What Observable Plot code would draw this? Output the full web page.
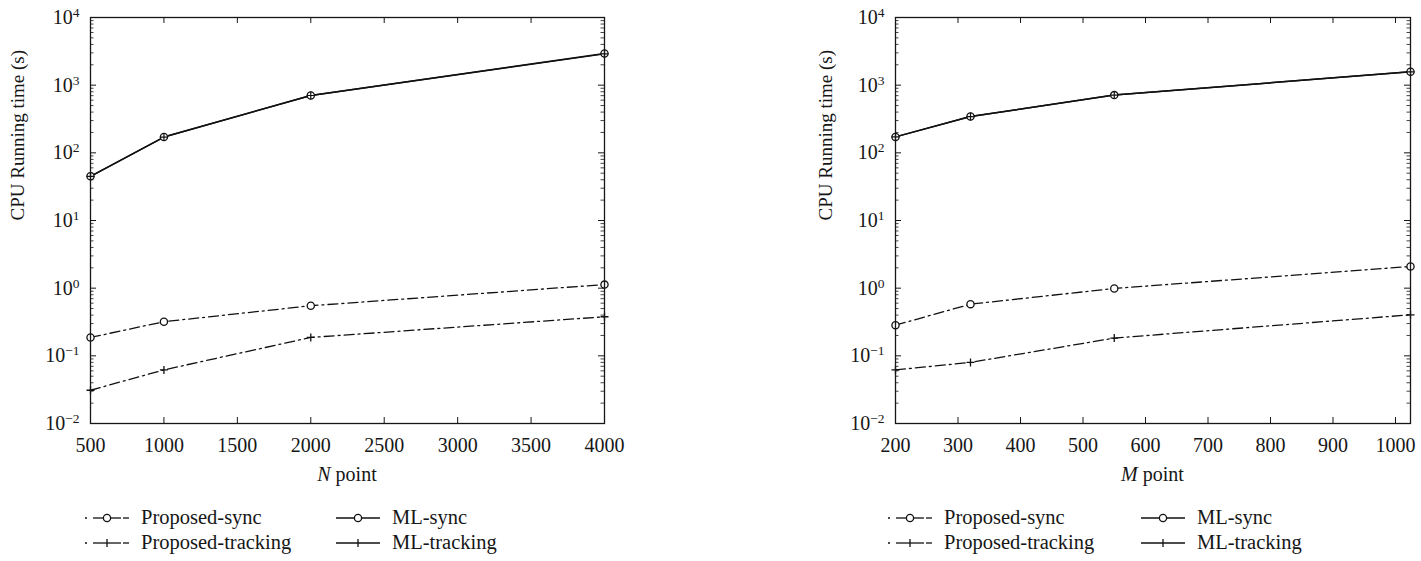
<!DOCTYPE html>
<html><head><meta charset="utf-8">
<script src="https://cdn.jsdelivr.net/npm/d3@7"></script>
<script src="https://cdn.jsdelivr.net/npm/@observablehq/plot@0.6"></script>
<style>
body{margin:0;background:#fff;}
#root{position:relative;width:1421px;height:561px;overflow:hidden;font-family:"Liberation Serif",serif;color:#161616;background:#fff}
.panel{position:absolute;top:0}
.xlab{position:absolute;top:463px;font-size:20px;transform:translateX(-50%);white-space:nowrap}
.leg{position:absolute;font-size:20.5px;line-height:25px;white-space:nowrap}
.leg .item{position:absolute;display:flex;align-items:center}
.leg svg{margin-right:12px}
</style></head><body><div id="root"></div>
<script>
// ---------- data ----------
const seriesNames = ["Proposed-sync", "Proposed-tracking", "ML-sync", "ML-tracking"];
const nPoints = [500, 1000, 2000, 4000];
const nProposedSync = [0.187, 0.319, 0.55, 1.13];
const nProposedTracking = [0.031, 0.062, 0.187, 0.378];
const nMLSync = [45, 171, 703, 2946];
const nMLTracking = [45, 171, 703, 2900];
const mPoints = [200, 320, 550, 1024];
const mProposedSync = [0.284, 0.58, 0.99, 2.09];
const mProposedTracking = [0.062, 0.080, 0.183, 0.404];
const mMLSync = [172, 344, 713, 1575];
const mMLTracking = [172, 344, 713, 1575];
const nTicks = [500, 1000, 1500, 2000, 2500, 3000, 3500, 4000];
const mTicks = [200, 300, 400, 500, 600, 700, 800, 900, 1000];
const yTicks = [1e-2, 1e-1, 1e0, 1e1, 1e2, 1e3, 1e4];
const yMinorTicks = d3.range(-2, 4).flatMap(e => d3.range(2, 10).map(k => k * Math.pow(10, e)));

const root = document.getElementById("root");
const H = 490;

function makePanel({left, width, mL, mR, xs, ps, pt, ms, mt, xDomain, xTicks, xLabel, yLabelX}) {
  const mT = 17, mB = H - 423;
  const fw = width - mL - mR, fh = H - mT - mB;
  const rows = (vals, s) => xs.map((x, i) => ({x, y: vals[i], s}));
  const dPS = rows(ps, seriesNames[0]), dPT = rows(pt, seriesNames[1]);
  const dMS = rows(ms, seriesNames[2]), dMT = rows(mt, seriesNames[3]);
  const dash = "10,4,2,4";
  const plot = Plot.plot({
    width, height: H, marginLeft: mL, marginRight: mR, marginTop: mT, marginBottom: mB,
    style: {fontFamily: "Liberation Serif, serif", fontSize: "20px", color: "#161616", background: "transparent"},
    x: {type: "linear", domain: xDomain, axis: null, label: null},
    y: {type: "log", domain: [1e-2, 1e4], axis: null, label: null},
    marks: [
      // inward ticks
      Plot.tickY(yTicks, {y: d => d, insetRight: fw - 6, stroke: "#161616"}),
      Plot.tickY(yTicks, {y: d => d, insetLeft: fw - 6, stroke: "#161616"}),
      Plot.tickY(yMinorTicks, {y: d => d, insetRight: fw - 3.5, stroke: "#161616", strokeWidth: 0.8}),
      Plot.tickY(yMinorTicks, {y: d => d, insetLeft: fw - 3.5, stroke: "#161616", strokeWidth: 0.8}),
      Plot.tickX(xTicks, {x: d => d, insetTop: fh - 6, stroke: "#161616"}),
      Plot.tickX(xTicks, {x: d => d, insetBottom: fh - 6, stroke: "#161616"}),
      Plot.axisY(yTicks, {anchor: "left", label: null, tickSize: 0, tickPadding: 11, fontSize: 20,
        tickFormat: d => `10^${Math.round(Math.log10(d))}`}),
      Plot.axisX(xTicks, {anchor: "bottom", label: null, tickSize: 0, tickPadding: 14, fontSize: 20, tickFormat: d => String(d)}),
      Plot.text(["CPU Running time (s)"], {frameAnchor: "left", rotate: -90, dx: -(mL - yLabelX), fontSize: 19, fill: "#161616"}),
      // series
      Plot.line(dPS, {x: "x", y: "y", stroke: "#111", strokeWidth: 1.3, strokeDasharray: dash}),
      Plot.line(dPT, {x: "x", y: "y", stroke: "#111", strokeWidth: 1.3, strokeDasharray: dash}),
      Plot.line(dMT, {x: "x", y: "y", stroke: "#111", strokeWidth: 1.5}),
      Plot.line(dMS, {x: "x", y: "y", stroke: "#111", strokeWidth: 1.5}),
      Plot.dot(dPS, {x: "x", y: "y", r: 3.6, stroke: "#111", fill: "white", strokeWidth: 1.3}),
      Plot.dot(dPT, {x: "x", y: "y", r: 2.7, symbol: "plus", stroke: "#111", strokeWidth: 1.3}),
      Plot.dot(dMS, {x: "x", y: "y", r: 3.6, stroke: "#111", fill: "white", strokeWidth: 1.3}),
      Plot.dot(dMT, {x: "x", y: "y", r: 2.7, symbol: "plus", stroke: "#111", strokeWidth: 1.2}),
      Plot.frame({stroke: "#161616", strokeWidth: 1.3})
    ]
  });
  plot.querySelectorAll('g[aria-label="y-axis tick label"] text').forEach(t => {
    const m = t.textContent.match(/^10\^(-?\d+)$/);
    if (!m) return;
    t.textContent = "10";
    const ts = document.createElementNS("http://www.w3.org/2000/svg", "tspan");
    ts.setAttribute("dy", "-0.5em");
    ts.setAttribute("font-size", "13.5px");
    ts.textContent = m[1].replace("-", "\u2212");
    t.appendChild(ts);
  });
  const div = document.createElement("div");
  div.className = "panel";
  div.style.left = left + "px";
  div.appendChild(plot);
  root.appendChild(div);
  const xl = document.createElement("div");
  xl.className = "xlab";
  xl.style.left = (left + mL + fw / 2) + "px";
  xl.innerHTML = `<i>${xLabel}</i> point`;
  root.appendChild(xl);
}

makePanel({left: 0, width: 710, mL: 90, mR: 106, xs: nPoints, ps: nProposedSync, pt: nProposedTracking,
  ms: nMLSync, mt: nMLTracking, xDomain: [500, 4000], xTicks: nTicks, xLabel: "N", yLabelX: 17});
makePanel({left: 710, width: 711, mL: 185, mR: 11, xs: mPoints, ps: mProposedSync, pt: mProposedTracking,
  ms: mMLSync, mt: mMLTracking, xDomain: [200, 1024], xTicks: mTicks, xLabel: "M", yLabelX: 115});

// ---------- legends ----------
function sample(kind) {
  const w = 44, h = 14, c = h / 2;
  const proposed = kind.startsWith("Proposed");
  const line = proposed
    ? `<line x1="0" y1="${c}" x2="2" y2="${c}" stroke="#111" stroke-width="1.3"/><line x1="8" y1="${c}" x2="${w-8}" y2="${c}" stroke="#111" stroke-width="1.3"/><line x1="${w-6}" y1="${c}" x2="${w}" y2="${c}" stroke="#111" stroke-width="1.3"/>`
    : `<line x1="0" y1="${c}" x2="${w}" y2="${c}" stroke="#111" stroke-width="1.5"/>`;
  const marker = kind.endsWith("sync")
    ? `<circle cx="${w/2}" cy="${c}" r="3.6" fill="white" stroke="#111" stroke-width="1.3"/>`
    : `<line x1="${w/2}" y1="${c-4}" x2="${w/2}" y2="${c+4}" stroke="#111" stroke-width="1.3"/>`;
  return `<svg width="${w}" height="${h}">${line}${marker}</svg>`;
}
function legend(x0, x1) {
  const lg = document.createElement("div");
  lg.className = "leg";
  lg.style.left = "0px"; lg.style.top = "0px";
  const pos = [[x0, 505], [x0, 530], [x1, 505], [x1, 530]];
  seriesNames.forEach((s, i) => {
    const it = document.createElement("div");
    it.className = "item";
    it.style.left = pos[i][0] + "px"; it.style.top = pos[i][1] + "px";
    it.innerHTML = sample(s) + `<span>${s}</span>`;
    lg.appendChild(it);
  });
  root.appendChild(lg);
}
legend(85, 336);
legend(888, 1141);
</script></body></html>
